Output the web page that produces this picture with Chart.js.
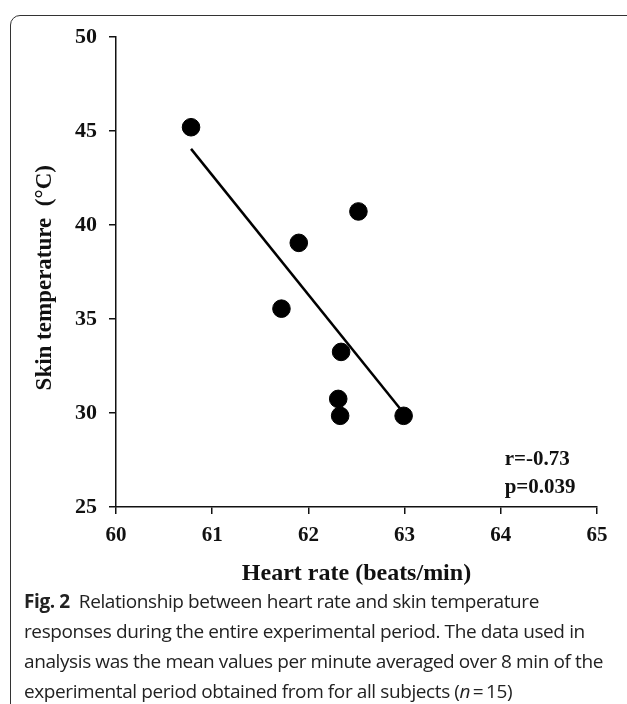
<!DOCTYPE html>
<html>
<head>
<meta charset="utf-8">
<script src="https://cdn.jsdelivr.net/npm/chart.js@4.4.1/dist/chart.umd.min.js"></script>
<style>
  body { margin: 0; width: 627px; height: 704px; overflow: hidden; background: #fff; position: relative; }
  #frame { position: absolute; left: 10px; top: 15px; width: 660px; height: 740px; border: 1.5px solid #333; border-radius: 10px; }
  #wrap { position: absolute; left: 0; top: 0; width: 627px; height: 592px; }
  #caption { position: absolute; left: 24px; top: 586px; font-family: "Open Sans", sans-serif; font-size: 19px; line-height: 30px; color: #222; letter-spacing: -0.4px; white-space: nowrap; }
  #caption b { font-weight: 700; }
</style>
</head>
<body>
<div id="frame"></div>
<div id="wrap"><canvas id="chart"></canvas></div>
<div id="caption"><b>Fig. 2</b>&nbsp; Relationship between heart rate and skin temperature<br>responses during the entire experimental period. The data used in<br>analysis was the mean values per minute averaged over 8 min of the<br>experimental period obtained from for all subjects (<i>n</i>&thinsp;=&thinsp;15)</div>
<script>
// data
const heartRate = [60.78, 61.90, 62.52, 61.72, 62.34, 62.31, 62.33, 62.99];
const skinTemp  = [45.20, 39.05, 40.72, 35.55, 33.25, 30.75, 29.85, 29.85];

// regression line end points
const fitX = [60.78, 62.95];
const fitY = [44.05, 30.25];

const xTicks = [60, 61, 62, 63, 64, 65];
const yTicks = [25, 30, 35, 40, 45, 50];

const statText = ["r=-0.73", "p=0.039"];
const statX = [64.04, 64.04];
const statY = [27.5, 26.05];

const serif = "'Liberation Serif', 'Times New Roman', serif";

// r / p labels, placed through the scales
const statsPlugin = {
  id: 'stats',
  afterDatasetsDraw(chart) {
    const ctx = chart.ctx;
    const xs = chart.scales.x, ys = chart.scales.y;
    ctx.save();
    ctx.font = "bold 21px " + serif;
    ctx.fillStyle = '#111';
    ctx.textAlign = 'left';
    ctx.textBaseline = 'middle';
    statText.forEach((t, i) => {
      ctx.fillText(t, xs.getPixelForValue(statX[i]), ys.getPixelForValue(statY[i]));
    });
    ctx.restore();
  }
};

new Chart(document.getElementById('chart'), {
  type: 'scatter',
  data: {
    datasets: [
      {
        label: 'Subjects',
        data: heartRate.map((v, i) => ({ x: v, y: skinTemp[i] })),
        backgroundColor: '#000',
        borderColor: '#000',
        pointRadius: 8.8,
        pointHoverRadius: 8.8
      },
      {
        type: 'line',
        label: 'Fit',
        data: fitX.map((v, i) => ({ x: v, y: fitY[i] })),
        borderColor: '#000',
        borderWidth: 2.5,
        pointRadius: 0,
        fill: false
      }
    ]
  },
  plugins: [statsPlugin],
  options: {
    responsive: true,
    maintainAspectRatio: false,
    animation: false,
    layout: { padding: { left: 10, right: 30, top: 37, bottom: 0 } },
    plugins: {
      legend: { display: false },
      tooltip: { enabled: false }
    },
    scales: {
      x: {
        type: 'linear',
        min: 60,
        max: 65,
        afterBuildTicks: s => { s.ticks = xTicks.map(v => ({ value: v })); },
        afterFit: s => { s.height = 85; },
        grid: { drawOnChartArea: false, drawTicks: true, tickLength: 7, color: '#111', lineWidth: 1.5 },
        border: { display: true, color: '#111', width: 1.5 },
        ticks: { color: '#111', padding: 9, font: { family: serif, weight: 'bold', size: 21 } },
        title: {
          display: true,
          text: 'Heart rate (beats/min)',
          color: '#111',
          font: { family: serif, weight: 'bold', size: 24 },
          padding: { top: 0, bottom: 4 }
        }
      },
      y: {
        type: 'linear',
        min: 25,
        max: 50,
        afterBuildTicks: s => { s.ticks = yTicks.map(v => ({ value: v })); },
        afterFit: s => { s.width = 106; },
        grid: { drawOnChartArea: false, drawTicks: true, tickLength: 7, color: '#111', lineWidth: 1.5 },
        border: { display: true, color: '#111', width: 1.5 },
        ticks: { color: '#111', padding: 12, font: { family: serif, weight: 'bold', size: 22 } },
        title: {
          display: true,
          text: 'Skin temperature  (°C)\u00a0\u00a0',
          color: '#111',
          font: { family: serif, weight: 'bold', size: 23 },
          padding: { top: 21, bottom: 0 }
        }
      }
    }
  }
});
</script>
</body>
</html>
